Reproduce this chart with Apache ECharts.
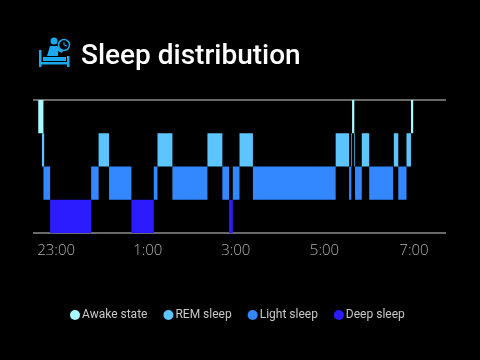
<!DOCTYPE html>
<html>
<head>
<meta charset="utf-8">
<style>html,body{margin:0;padding:0;background:#000}#chart{width:480px;height:360px}</style>
<script src="https://cdn.jsdelivr.net/npm/echarts@6/dist/echarts.min.js"></script>
</head>
<body>
<div id="chart"></div>
<script>
// minutes counted from 23:00, each pair is [start, end]
var awakeSpans = [[-24, -17], [397, 400], [476, 479]];
var remSpans = [[-19, -16], [57, 71], [136, 156], [203, 223], [246, 264], [375, 393], [396, 397], [400, 401], [410, 420], [453, 459], [470, 476]];
var lightSpans = [[-17, -8], [47, 57], [71, 101], [131, 136], [156, 203], [223, 232], [237, 246], [264, 375], [393, 396], [401, 410], [420, 452], [459, 470]];
var deepSpans = [[-8, 47], [101, 131], [232, 237]];
var tickValues = [0, 123, 241, 360, 480];
var tickLabels = ['23:00', '1:00', '3:00', '5:00', '7:00'];
var stageNames = ['Awake state', 'REM sleep', 'Light sleep', 'Deep sleep'];
var stageColors = ['#a5fbff', '#5cc4ff', '#3388ff', '#2a1cff'];
var stageRows = [3, 2, 1, 0];
var stageSpans = [awakeSpans, remSpans, lightSpans, deepSpans];

function renderSpan(params, api) {
    var row = api.value(2);
    var p1 = api.coord([api.value(0), row + 1]);
    var p2 = api.coord([api.value(1), row]);
    return {
        type: 'rect',
        shape: {x: p1[0], y: p1[1], width: p2[0] - p1[0], height: p2[1] - p1[1]},
        style: {fill: api.visual('color')}
    };
}

var series = [];
for (var i = 0; i < stageNames.length; i++) {
    var rows = [];
    for (var j = 0; j < stageSpans[i].length; j++) {
        rows.push([stageSpans[i][j][0], stageSpans[i][j][1], stageRows[i]]);
    }
    series.push({
        name: stageNames[i],
        type: 'custom',
        renderItem: renderSpan,
        itemStyle: {color: stageColors[i]},
        encode: {x: [0, 1], y: 2},
        data: rows
    });
}

var iconColor = '#1ba9f0';
var chart = echarts.init(document.getElementById('chart'));
chart.setOption({
    backgroundColor: '#000',
    animation: false,
    title: {
        text: 'Sleep distribution',
        left: 76, top: 38,
        textStyle: {color: '#fff', fontFamily: 'Roboto', fontSize: 28, fontWeight: 500}
    },
    legend: {
        bottom: 34, left: 65,
        itemWidth: 10, itemHeight: 10, itemGap: 16,
        icon: 'circle',
        textStyle: {color: '#c8c8c8', fontFamily: 'Roboto', fontSize: 12, padding: [0, 0, 0, -3]},
        data: stageNames
    },
    grid: {left: 33, right: 34, top: 100, bottom: 127},
    xAxis: {
        type: 'value',
        min: -31, max: 523,
        splitLine: {show: false},
        axisLine: {show: false},
        axisTick: {show: false},
        axisLabel: {
            color: '#b0b0b0', fontFamily: 'Open Sans', fontSize: 15, fontWeight: 300, margin: 10,
            customValues: tickValues,
            formatter: function (v) { return tickLabels[tickValues.indexOf(v)]; }
        }
    },
    yAxis: {
        type: 'value',
        min: 0, max: 4, interval: 4,
        axisLine: {show: false},
        axisTick: {show: false},
        axisLabel: {show: false},
        splitLine: {show: true, lineStyle: {color: '#8c8c8c', width: 1.5}}
    },
    graphic: [
        // bed and sleeper icon beside the title
        {type: 'rect', shape: {x: 39, y: 50, width: 2.5, height: 17}, style: {fill: iconColor}},
        {type: 'rect', shape: {x: 67, y: 56, width: 2.5, height: 11}, style: {fill: iconColor}},
        {type: 'rect', shape: {x: 39, y: 62, width: 30, height: 2.5}, style: {fill: iconColor}},
        {type: 'rect', shape: {x: 43, y: 57, width: 23, height: 4}, style: {fill: iconColor}},
        {type: 'circle', shape: {cx: 54, cy: 41, r: 3.5}, style: {fill: iconColor}},
        {type: 'polygon', shape: {points: [[50, 46], [57, 46], [63, 51], [62, 53], [58, 51], [58, 56], [47, 56]]}, style: {fill: iconColor}},
        {type: 'circle', shape: {cx: 64, cy: 45, r: 5.5}, style: {fill: '#000', stroke: iconColor, lineWidth: 1.5}},
        {type: 'polyline', shape: {points: [[64, 42], [64, 45], [67, 46]]}, style: {fill: 'none', stroke: iconColor, lineWidth: 1}}
    ],
    series: series
});
</script>
</body>
</html>
